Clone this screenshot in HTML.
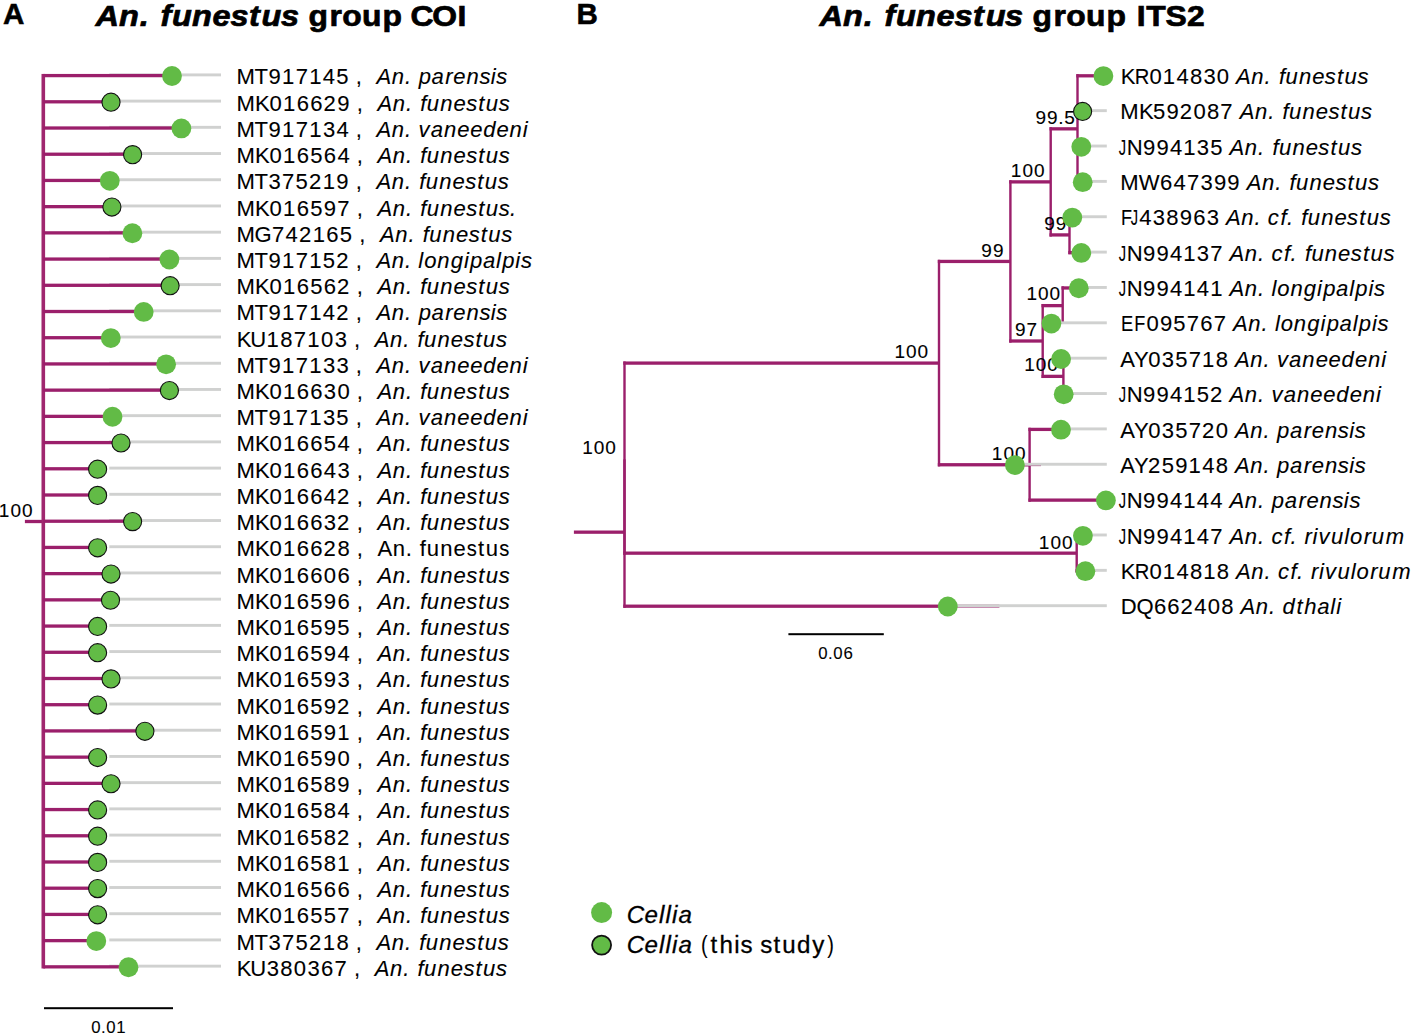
<!DOCTYPE html>
<html><head><meta charset="utf-8"><title>An. funestus group COI / ITS2</title>
<style>
html,body{margin:0;padding:0;background:#fff;}
body{width:1411px;height:1033px;overflow:hidden;}
svg{display:block;}
text{font-family:"Liberation Sans", sans-serif;white-space:pre;stroke:#000;stroke-width:0.1px;font-kerning:none;fill:#000;}
</style></head><body>
<svg width="1411" height="1033" viewBox="0 0 1411 1033">
<rect width="1411" height="1033" fill="#fff"/>
<g id="A-gray">
<rect x="109.30" y="73.44" width="111.70" height="2.90" fill="#d0d1d0"/>
<rect x="109.30" y="99.65" width="111.70" height="2.90" fill="#d0d1d0"/>
<rect x="109.30" y="125.87" width="111.70" height="2.90" fill="#d0d1d0"/>
<rect x="109.30" y="152.08" width="111.70" height="2.90" fill="#d0d1d0"/>
<rect x="109.30" y="178.29" width="111.70" height="2.90" fill="#d0d1d0"/>
<rect x="109.30" y="204.51" width="111.70" height="2.90" fill="#d0d1d0"/>
<rect x="109.30" y="230.72" width="111.70" height="2.90" fill="#d0d1d0"/>
<rect x="109.30" y="256.93" width="111.70" height="2.90" fill="#d0d1d0"/>
<rect x="109.30" y="283.15" width="111.70" height="2.90" fill="#d0d1d0"/>
<rect x="109.30" y="309.36" width="111.70" height="2.90" fill="#d0d1d0"/>
<rect x="109.30" y="335.57" width="111.70" height="2.90" fill="#d0d1d0"/>
<rect x="109.30" y="361.79" width="111.70" height="2.90" fill="#d0d1d0"/>
<rect x="109.30" y="388.00" width="111.70" height="2.90" fill="#d0d1d0"/>
<rect x="109.30" y="414.21" width="111.70" height="2.90" fill="#d0d1d0"/>
<rect x="109.30" y="440.43" width="111.70" height="2.90" fill="#d0d1d0"/>
<rect x="109.30" y="466.64" width="111.70" height="2.90" fill="#d0d1d0"/>
<rect x="109.30" y="492.85" width="111.70" height="2.90" fill="#d0d1d0"/>
<rect x="109.30" y="519.07" width="111.70" height="2.90" fill="#d0d1d0"/>
<rect x="109.30" y="545.28" width="111.70" height="2.90" fill="#d0d1d0"/>
<rect x="109.30" y="571.49" width="111.70" height="2.90" fill="#d0d1d0"/>
<rect x="109.30" y="597.71" width="111.70" height="2.90" fill="#d0d1d0"/>
<rect x="109.30" y="623.92" width="111.70" height="2.90" fill="#d0d1d0"/>
<rect x="109.30" y="650.13" width="111.70" height="2.90" fill="#d0d1d0"/>
<rect x="109.30" y="676.35" width="111.70" height="2.90" fill="#d0d1d0"/>
<rect x="109.30" y="702.56" width="111.70" height="2.90" fill="#d0d1d0"/>
<rect x="109.30" y="728.77" width="111.70" height="2.90" fill="#d0d1d0"/>
<rect x="109.30" y="754.99" width="111.70" height="2.90" fill="#d0d1d0"/>
<rect x="109.30" y="781.20" width="111.70" height="2.90" fill="#d0d1d0"/>
<rect x="109.30" y="807.41" width="111.70" height="2.90" fill="#d0d1d0"/>
<rect x="109.30" y="833.63" width="111.70" height="2.90" fill="#d0d1d0"/>
<rect x="109.30" y="859.84" width="111.70" height="2.90" fill="#d0d1d0"/>
<rect x="109.30" y="886.05" width="111.70" height="2.90" fill="#d0d1d0"/>
<rect x="109.30" y="912.27" width="111.70" height="2.90" fill="#d0d1d0"/>
<rect x="109.30" y="938.48" width="111.70" height="2.90" fill="#d0d1d0"/>
<rect x="109.30" y="964.69" width="111.70" height="2.90" fill="#d0d1d0"/>
</g><g id="A-tree">
<rect x="24.90" y="519.85" width="18.40" height="3.30" fill="#9b1f6b"/>
<rect x="41.50" y="73.94" width="3.60" height="894.55" fill="#a0276f"/>
<rect x="43.30" y="73.94" width="128.70" height="3.30" fill="#9b1f6b"/>
<rect x="43.30" y="100.15" width="67.70" height="3.30" fill="#9b1f6b"/>
<rect x="43.30" y="126.37" width="138.10" height="3.30" fill="#9b1f6b"/>
<rect x="43.30" y="152.58" width="89.30" height="3.30" fill="#9b1f6b"/>
<rect x="43.30" y="178.79" width="66.50" height="3.30" fill="#9b1f6b"/>
<rect x="43.30" y="205.01" width="68.60" height="3.30" fill="#9b1f6b"/>
<rect x="43.30" y="231.22" width="89.10" height="3.30" fill="#9b1f6b"/>
<rect x="43.30" y="257.43" width="126.10" height="3.30" fill="#9b1f6b"/>
<rect x="43.30" y="283.65" width="126.80" height="3.30" fill="#9b1f6b"/>
<rect x="43.30" y="309.86" width="100.40" height="3.30" fill="#9b1f6b"/>
<rect x="43.30" y="336.07" width="67.50" height="3.30" fill="#9b1f6b"/>
<rect x="43.30" y="362.29" width="122.80" height="3.30" fill="#9b1f6b"/>
<rect x="43.30" y="388.50" width="126.10" height="3.30" fill="#9b1f6b"/>
<rect x="43.30" y="414.71" width="69.20" height="3.30" fill="#9b1f6b"/>
<rect x="43.30" y="440.93" width="77.70" height="3.30" fill="#9b1f6b"/>
<rect x="43.30" y="467.14" width="54.30" height="3.30" fill="#9b1f6b"/>
<rect x="43.30" y="493.35" width="54.30" height="3.30" fill="#9b1f6b"/>
<rect x="43.30" y="519.57" width="89.30" height="3.30" fill="#9b1f6b"/>
<rect x="43.30" y="545.78" width="54.30" height="3.30" fill="#9b1f6b"/>
<rect x="43.30" y="571.99" width="67.70" height="3.30" fill="#9b1f6b"/>
<rect x="43.30" y="598.21" width="67.20" height="3.30" fill="#9b1f6b"/>
<rect x="43.30" y="624.42" width="54.30" height="3.30" fill="#9b1f6b"/>
<rect x="43.30" y="650.63" width="54.30" height="3.30" fill="#9b1f6b"/>
<rect x="43.30" y="676.85" width="67.70" height="3.30" fill="#9b1f6b"/>
<rect x="43.30" y="703.06" width="54.30" height="3.30" fill="#9b1f6b"/>
<rect x="43.30" y="729.27" width="101.60" height="3.30" fill="#9b1f6b"/>
<rect x="43.30" y="755.49" width="54.30" height="3.30" fill="#9b1f6b"/>
<rect x="43.30" y="781.70" width="67.70" height="3.30" fill="#9b1f6b"/>
<rect x="43.30" y="807.91" width="54.30" height="3.30" fill="#9b1f6b"/>
<rect x="43.30" y="834.13" width="54.30" height="3.30" fill="#9b1f6b"/>
<rect x="43.30" y="860.34" width="54.30" height="3.30" fill="#9b1f6b"/>
<rect x="43.30" y="886.55" width="54.30" height="3.30" fill="#9b1f6b"/>
<rect x="43.30" y="912.77" width="54.30" height="3.30" fill="#9b1f6b"/>
<rect x="43.30" y="938.98" width="53.00" height="3.30" fill="#9b1f6b"/>
<rect x="43.30" y="965.19" width="85.20" height="3.30" fill="#9b1f6b"/>
</g><g id="A-dots">
<circle cx="172.00" cy="75.99" r="9.90" fill="#62bb46"/>
<circle cx="111.00" cy="102.20" r="9.05" fill="#62bb46" stroke="#111" stroke-width="1.1"/>
<circle cx="181.40" cy="128.42" r="9.90" fill="#62bb46"/>
<circle cx="132.60" cy="154.63" r="9.05" fill="#62bb46" stroke="#111" stroke-width="1.1"/>
<circle cx="109.80" cy="180.84" r="9.90" fill="#62bb46"/>
<circle cx="111.90" cy="207.06" r="9.05" fill="#62bb46" stroke="#111" stroke-width="1.1"/>
<circle cx="132.40" cy="233.27" r="9.90" fill="#62bb46"/>
<circle cx="169.40" cy="259.48" r="9.90" fill="#62bb46"/>
<circle cx="170.10" cy="285.70" r="9.05" fill="#62bb46" stroke="#111" stroke-width="1.1"/>
<circle cx="143.70" cy="311.91" r="9.90" fill="#62bb46"/>
<circle cx="110.80" cy="338.12" r="9.90" fill="#62bb46"/>
<circle cx="166.10" cy="364.34" r="9.90" fill="#62bb46"/>
<circle cx="169.40" cy="390.55" r="9.05" fill="#62bb46" stroke="#111" stroke-width="1.1"/>
<circle cx="112.50" cy="416.76" r="9.90" fill="#62bb46"/>
<circle cx="121.00" cy="442.98" r="9.05" fill="#62bb46" stroke="#111" stroke-width="1.1"/>
<circle cx="97.60" cy="469.19" r="9.05" fill="#62bb46" stroke="#111" stroke-width="1.1"/>
<circle cx="97.60" cy="495.40" r="9.05" fill="#62bb46" stroke="#111" stroke-width="1.1"/>
<circle cx="132.60" cy="521.62" r="9.05" fill="#62bb46" stroke="#111" stroke-width="1.1"/>
<circle cx="97.60" cy="547.83" r="9.05" fill="#62bb46" stroke="#111" stroke-width="1.1"/>
<circle cx="111.00" cy="574.04" r="9.05" fill="#62bb46" stroke="#111" stroke-width="1.1"/>
<circle cx="110.50" cy="600.26" r="9.05" fill="#62bb46" stroke="#111" stroke-width="1.1"/>
<circle cx="97.60" cy="626.47" r="9.05" fill="#62bb46" stroke="#111" stroke-width="1.1"/>
<circle cx="97.60" cy="652.68" r="9.05" fill="#62bb46" stroke="#111" stroke-width="1.1"/>
<circle cx="111.00" cy="678.90" r="9.05" fill="#62bb46" stroke="#111" stroke-width="1.1"/>
<circle cx="97.60" cy="705.11" r="9.05" fill="#62bb46" stroke="#111" stroke-width="1.1"/>
<circle cx="144.90" cy="731.32" r="9.05" fill="#62bb46" stroke="#111" stroke-width="1.1"/>
<circle cx="97.60" cy="757.54" r="9.05" fill="#62bb46" stroke="#111" stroke-width="1.1"/>
<circle cx="111.00" cy="783.75" r="9.05" fill="#62bb46" stroke="#111" stroke-width="1.1"/>
<circle cx="97.60" cy="809.96" r="9.05" fill="#62bb46" stroke="#111" stroke-width="1.1"/>
<circle cx="97.60" cy="836.18" r="9.05" fill="#62bb46" stroke="#111" stroke-width="1.1"/>
<circle cx="97.60" cy="862.39" r="9.05" fill="#62bb46" stroke="#111" stroke-width="1.1"/>
<circle cx="97.60" cy="888.60" r="9.05" fill="#62bb46" stroke="#111" stroke-width="1.1"/>
<circle cx="97.60" cy="914.82" r="9.05" fill="#62bb46" stroke="#111" stroke-width="1.1"/>
<circle cx="96.30" cy="941.03" r="9.90" fill="#62bb46"/>
<circle cx="128.50" cy="967.24" r="9.90" fill="#62bb46"/>
</g><g id="A-labels">
<text x="236.43 254.61 268.45 281.99 295.64 309.16 322.85 336.35" y="84.49" font-size="22.05" font-style="normal" font-weight="normal">MT917145</text>
<text x="355.71" y="84.49" font-size="22.05" font-style="normal" font-weight="normal">,</text>
<text x="376.45 391.70 404.97 411.25 418.64 431.56 445.31 453.37 466.47 479.39 490.68 496.25" y="84.49" font-size="22.05" font-style="italic" font-weight="normal">An. parensis</text>
<text x="236.43 255.11 269.48 282.95 296.65 310.23 323.53 337.33" y="110.70" font-size="22.05" font-style="normal" font-weight="normal">MK016629</text>
<text x="356.66" y="110.70" font-size="22.05" font-style="normal" font-weight="normal">,</text>
<text x="377.40 392.65 405.92 412.20 420.28 426.78 440.24 453.50 466.15 478.25 485.77 498.78" y="110.70" font-size="22.05" font-style="italic" font-weight="normal">An. funestus</text>
<text x="236.43 254.61 268.45 281.99 295.64 309.16 322.88 336.43" y="136.92" font-size="22.05" font-style="normal" font-weight="normal">MT917134</text>
<text x="355.71" y="136.92" font-size="22.05" font-style="normal" font-weight="normal">,</text>
<text x="376.45 391.70 404.97 411.25 418.45 430.65 443.91 457.16 470.15 483.15 496.52 509.62 522.84" y="136.92" font-size="22.05" font-style="italic" font-weight="normal">An. vaneedeni</text>
<text x="236.43 255.11 269.48 282.95 296.65 310.14 323.81 337.39" y="163.13" font-size="22.05" font-style="normal" font-weight="normal">MK016564</text>
<text x="356.66" y="163.13" font-size="22.05" font-style="normal" font-weight="normal">,</text>
<text x="377.40 392.65 405.92 412.20 420.28 426.78 440.24 453.50 466.15 478.25 485.77 498.78" y="163.13" font-size="22.05" font-style="italic" font-weight="normal">An. funestus</text>
<text x="236.43 254.61 268.55 282.06 295.60 308.99 322.74 336.37" y="189.34" font-size="22.05" font-style="normal" font-weight="normal">MT375219</text>
<text x="355.71" y="189.34" font-size="22.05" font-style="normal" font-weight="normal">,</text>
<text x="376.45 391.70 404.97 411.25 419.33 425.83 439.29 452.55 465.20 477.30 484.82 497.84" y="189.34" font-size="22.05" font-style="italic" font-weight="normal">An. funestus</text>
<text x="236.43 255.11 269.48 282.95 296.65 310.14 323.74 337.35" y="215.56" font-size="22.05" font-style="normal" font-weight="normal">MK016597</text>
<text x="356.66" y="215.56" font-size="22.05" font-style="normal" font-weight="normal">,</text>
<text x="377.40 392.65 405.92 412.20 420.28 426.78 440.24 453.50 466.15 478.25 485.77 498.78 510.12" y="215.56" font-size="22.05" font-style="italic" font-weight="normal">An. funestus.</text>
<text x="236.43 254.51 271.98 285.60 298.91 312.66 326.36 339.85" y="241.77" font-size="22.05" font-style="normal" font-weight="normal">MG742165</text>
<text x="359.18" y="241.77" font-size="22.05" font-style="normal" font-weight="normal">,</text>
<text x="379.91 395.16 408.43 414.72 422.80 429.29 442.75 456.01 468.66 480.76 488.29 501.30" y="241.77" font-size="22.05" font-style="italic" font-weight="normal">An. funestus</text>
<text x="236.43 254.61 268.45 281.99 295.64 309.16 322.77 336.15" y="267.98" font-size="22.05" font-style="normal" font-weight="normal">MT917152</text>
<text x="355.71" y="267.98" font-size="22.05" font-style="normal" font-weight="normal">,</text>
<text x="376.45 391.70 404.97 411.25 418.34 424.14 437.26 450.68 463.88 470.04 482.96 496.06 502.23 515.32 520.88" y="267.98" font-size="22.05" font-style="italic" font-weight="normal">An. longipalpis</text>
<text x="236.43 255.11 269.48 282.95 296.65 310.14 323.81 337.11" y="294.20" font-size="22.05" font-style="normal" font-weight="normal">MK016562</text>
<text x="356.66" y="294.20" font-size="22.05" font-style="normal" font-weight="normal">,</text>
<text x="377.40 392.65 405.92 412.20 420.28 426.78 440.24 453.50 466.15 478.25 485.77 498.78" y="294.20" font-size="22.05" font-style="italic" font-weight="normal">An. funestus</text>
<text x="236.43 254.61 268.45 281.99 295.64 309.16 322.85 336.15" y="320.41" font-size="22.05" font-style="normal" font-weight="normal">MT917142</text>
<text x="355.71" y="320.41" font-size="22.05" font-style="normal" font-weight="normal">,</text>
<text x="376.45 391.70 404.97 411.25 418.64 431.56 445.31 453.37 466.47 479.39 490.68 496.25" y="320.41" font-size="22.05" font-style="italic" font-weight="normal">An. parensis</text>
<text x="236.69 250.25 266.57 280.27 293.81 307.32 321.02 334.63" y="346.62" font-size="22.05" font-style="normal" font-weight="normal">KU187103</text>
<text x="353.90" y="346.62" font-size="22.05" font-style="normal" font-weight="normal">,</text>
<text x="374.64 389.89 403.16 409.44 417.52 424.02 437.48 450.73 463.38 475.49 483.01 496.02" y="346.62" font-size="22.05" font-style="italic" font-weight="normal">An. funestus</text>
<text x="236.43 254.61 268.45 281.99 295.64 309.16 322.88 336.46" y="372.84" font-size="22.05" font-style="normal" font-weight="normal">MT917133</text>
<text x="355.71" y="372.84" font-size="22.05" font-style="normal" font-weight="normal">,</text>
<text x="376.45 391.70 404.97 411.25 418.45 430.65 443.91 457.16 470.15 483.15 496.52 509.62 522.84" y="372.84" font-size="22.05" font-style="italic" font-weight="normal">An. vaneedeni</text>
<text x="236.43 255.11 269.48 282.95 296.65 310.23 323.84 337.39" y="399.05" font-size="22.05" font-style="normal" font-weight="normal">MK016630</text>
<text x="356.66" y="399.05" font-size="22.05" font-style="normal" font-weight="normal">,</text>
<text x="377.40 392.65 405.92 412.20 420.28 426.78 440.24 453.50 466.15 478.25 485.77 498.78" y="399.05" font-size="22.05" font-style="italic" font-weight="normal">An. funestus</text>
<text x="236.43 254.61 268.45 281.99 295.64 309.16 322.88 336.35" y="425.26" font-size="22.05" font-style="normal" font-weight="normal">MT917135</text>
<text x="355.71" y="425.26" font-size="22.05" font-style="normal" font-weight="normal">,</text>
<text x="376.45 391.70 404.97 411.25 418.45 430.65 443.91 457.16 470.15 483.15 496.52 509.62 522.84" y="425.26" font-size="22.05" font-style="italic" font-weight="normal">An. vaneedeni</text>
<text x="236.43 255.11 269.48 282.95 296.65 310.23 323.73 337.39" y="451.48" font-size="22.05" font-style="normal" font-weight="normal">MK016654</text>
<text x="356.66" y="451.48" font-size="22.05" font-style="normal" font-weight="normal">,</text>
<text x="377.40 392.65 405.92 412.20 420.28 426.78 440.24 453.50 466.15 478.25 485.77 498.78" y="451.48" font-size="22.05" font-style="italic" font-weight="normal">An. funestus</text>
<text x="236.43 255.11 269.48 282.95 296.65 310.23 323.81 337.42" y="477.69" font-size="22.05" font-style="normal" font-weight="normal">MK016643</text>
<text x="356.66" y="477.69" font-size="22.05" font-style="normal" font-weight="normal">,</text>
<text x="377.40 392.65 405.92 412.20 420.28 426.78 440.24 453.50 466.15 478.25 485.77 498.78" y="477.69" font-size="22.05" font-style="italic" font-weight="normal">An. funestus</text>
<text x="236.43 255.11 269.48 282.95 296.65 310.23 323.81 337.11" y="503.90" font-size="22.05" font-style="normal" font-weight="normal">MK016642</text>
<text x="356.66" y="503.90" font-size="22.05" font-style="normal" font-weight="normal">,</text>
<text x="377.40 392.65 405.92 412.20 420.28 426.78 440.24 453.50 466.15 478.25 485.77 498.78" y="503.90" font-size="22.05" font-style="italic" font-weight="normal">An. funestus</text>
<text x="236.43 255.11 269.48 282.95 296.65 310.23 323.84 337.11" y="530.12" font-size="22.05" font-style="normal" font-weight="normal">MK016632</text>
<text x="356.66" y="530.12" font-size="22.05" font-style="normal" font-weight="normal">,</text>
<text x="377.40 392.65 405.92 412.20 420.28 426.78 440.24 453.50 466.15 478.25 485.77 498.78" y="530.12" font-size="22.05" font-style="italic" font-weight="normal">An. funestus</text>
<text x="236.43 255.11 269.48 282.95 296.65 310.23 323.53 337.39" y="556.33" font-size="22.05" font-style="normal" font-weight="normal">MK016628</text>
<text x="356.66" y="556.33" font-size="22.05" font-style="normal" font-weight="normal">,</text>
<text x="377.55 392.72 405.78 412.20 419.83 426.85 440.31 453.48 466.07 478.08 485.84 498.70" y="556.33" font-size="22.05" font-style="normal" font-weight="normal">An. fune tu </text>
<text transform="translate(466.65,556.33) scale(0.917,1)" x="0" y="0" font-size="22.05">s</text>
<text transform="translate(499.28,556.33) scale(0.917,1)" x="0" y="0" font-size="22.05">s</text>
<text x="236.43 255.11 269.48 282.95 296.65 310.23 323.81 337.40" y="582.54" font-size="22.05" font-style="normal" font-weight="normal">MK016606</text>
<text x="356.66" y="582.54" font-size="22.05" font-style="normal" font-weight="normal">,</text>
<text x="377.40 392.65 405.92 412.20 420.28 426.78 440.24 453.50 466.15 478.25 485.77 498.78" y="582.54" font-size="22.05" font-style="italic" font-weight="normal">An. funestus</text>
<text x="236.43 255.11 269.48 282.95 296.65 310.14 323.74 337.40" y="608.76" font-size="22.05" font-style="normal" font-weight="normal">MK016596</text>
<text x="356.66" y="608.76" font-size="22.05" font-style="normal" font-weight="normal">,</text>
<text x="377.40 392.65 405.92 412.20 420.28 426.78 440.24 453.50 466.15 478.25 485.77 498.78" y="608.76" font-size="22.05" font-style="italic" font-weight="normal">An. funestus</text>
<text x="236.43 255.11 269.48 282.95 296.65 310.14 323.74 337.31" y="634.97" font-size="22.05" font-style="normal" font-weight="normal">MK016595</text>
<text x="356.66" y="634.97" font-size="22.05" font-style="normal" font-weight="normal">,</text>
<text x="377.40 392.65 405.92 412.20 420.28 426.78 440.24 453.50 466.15 478.25 485.77 498.78" y="634.97" font-size="22.05" font-style="italic" font-weight="normal">An. funestus</text>
<text x="236.43 255.11 269.48 282.95 296.65 310.14 323.74 337.39" y="661.18" font-size="22.05" font-style="normal" font-weight="normal">MK016594</text>
<text x="356.66" y="661.18" font-size="22.05" font-style="normal" font-weight="normal">,</text>
<text x="377.40 392.65 405.92 412.20 420.28 426.78 440.24 453.50 466.15 478.25 485.77 498.78" y="661.18" font-size="22.05" font-style="italic" font-weight="normal">An. funestus</text>
<text x="236.43 255.11 269.48 282.95 296.65 310.14 323.74 337.42" y="687.40" font-size="22.05" font-style="normal" font-weight="normal">MK016593</text>
<text x="356.66" y="687.40" font-size="22.05" font-style="normal" font-weight="normal">,</text>
<text x="377.40 392.65 405.92 412.20 420.28 426.78 440.24 453.50 466.15 478.25 485.77 498.78" y="687.40" font-size="22.05" font-style="italic" font-weight="normal">An. funestus</text>
<text x="236.43 255.11 269.48 282.95 296.65 310.14 323.74 337.11" y="713.61" font-size="22.05" font-style="normal" font-weight="normal">MK016592</text>
<text x="356.66" y="713.61" font-size="22.05" font-style="normal" font-weight="normal">,</text>
<text x="377.40 392.65 405.92 412.20 420.28 426.78 440.24 453.50 466.15 478.25 485.77 498.78" y="713.61" font-size="22.05" font-style="italic" font-weight="normal">An. funestus</text>
<text x="236.43 255.11 269.48 282.95 296.65 310.14 323.74 337.29" y="739.82" font-size="22.05" font-style="normal" font-weight="normal">MK016591</text>
<text x="356.66" y="739.82" font-size="22.05" font-style="normal" font-weight="normal">,</text>
<text x="377.40 392.65 405.92 412.20 420.28 426.78 440.24 453.50 466.15 478.25 485.77 498.78" y="739.82" font-size="22.05" font-style="italic" font-weight="normal">An. funestus</text>
<text x="236.43 255.11 269.48 282.95 296.65 310.14 323.74 337.39" y="766.04" font-size="22.05" font-style="normal" font-weight="normal">MK016590</text>
<text x="356.66" y="766.04" font-size="22.05" font-style="normal" font-weight="normal">,</text>
<text x="377.40 392.65 405.92 412.20 420.28 426.78 440.24 453.50 466.15 478.25 485.77 498.78" y="766.04" font-size="22.05" font-style="italic" font-weight="normal">An. funestus</text>
<text x="236.43 255.11 269.48 282.95 296.65 310.14 323.81 337.33" y="792.25" font-size="22.05" font-style="normal" font-weight="normal">MK016589</text>
<text x="356.66" y="792.25" font-size="22.05" font-style="normal" font-weight="normal">,</text>
<text x="377.40 392.65 405.92 412.20 420.28 426.78 440.24 453.50 466.15 478.25 485.77 498.78" y="792.25" font-size="22.05" font-style="italic" font-weight="normal">An. funestus</text>
<text x="236.43 255.11 269.48 282.95 296.65 310.14 323.81 337.39" y="818.46" font-size="22.05" font-style="normal" font-weight="normal">MK016584</text>
<text x="356.66" y="818.46" font-size="22.05" font-style="normal" font-weight="normal">,</text>
<text x="377.40 392.65 405.92 412.20 420.28 426.78 440.24 453.50 466.15 478.25 485.77 498.78" y="818.46" font-size="22.05" font-style="italic" font-weight="normal">An. funestus</text>
<text x="236.43 255.11 269.48 282.95 296.65 310.14 323.81 337.11" y="844.68" font-size="22.05" font-style="normal" font-weight="normal">MK016582</text>
<text x="356.66" y="844.68" font-size="22.05" font-style="normal" font-weight="normal">,</text>
<text x="377.40 392.65 405.92 412.20 420.28 426.78 440.24 453.50 466.15 478.25 485.77 498.78" y="844.68" font-size="22.05" font-style="italic" font-weight="normal">An. funestus</text>
<text x="236.43 255.11 269.48 282.95 296.65 310.14 323.81 337.29" y="870.89" font-size="22.05" font-style="normal" font-weight="normal">MK016581</text>
<text x="356.66" y="870.89" font-size="22.05" font-style="normal" font-weight="normal">,</text>
<text x="377.40 392.65 405.92 412.20 420.28 426.78 440.24 453.50 466.15 478.25 485.77 498.78" y="870.89" font-size="22.05" font-style="italic" font-weight="normal">An. funestus</text>
<text x="236.43 255.11 269.48 282.95 296.65 310.14 323.81 337.40" y="897.10" font-size="22.05" font-style="normal" font-weight="normal">MK016566</text>
<text x="356.66" y="897.10" font-size="22.05" font-style="normal" font-weight="normal">,</text>
<text x="377.40 392.65 405.92 412.20 420.28 426.78 440.24 453.50 466.15 478.25 485.77 498.78" y="897.10" font-size="22.05" font-style="italic" font-weight="normal">An. funestus</text>
<text x="236.43 255.11 269.48 282.95 296.65 310.14 323.73 337.35" y="923.32" font-size="22.05" font-style="normal" font-weight="normal">MK016557</text>
<text x="356.66" y="923.32" font-size="22.05" font-style="normal" font-weight="normal">,</text>
<text x="377.40 392.65 405.92 412.20 420.28 426.78 440.24 453.50 466.15 478.25 485.77 498.78" y="923.32" font-size="22.05" font-style="italic" font-weight="normal">An. funestus</text>
<text x="236.43 254.61 268.55 282.06 295.60 308.99 322.74 336.43" y="949.53" font-size="22.05" font-style="normal" font-weight="normal">MT375218</text>
<text x="355.71" y="949.53" font-size="22.05" font-style="normal" font-weight="normal">,</text>
<text x="376.45 391.70 404.97 411.25 419.33 425.83 439.29 452.55 465.20 477.30 484.82 497.84" y="949.53" font-size="22.05" font-style="italic" font-weight="normal">An. funestus</text>
<text x="236.69 250.25 266.71 280.27 293.85 307.46 321.02 334.56" y="975.74" font-size="22.05" font-style="normal" font-weight="normal">KU380367</text>
<text x="353.90" y="975.74" font-size="22.05" font-style="normal" font-weight="normal">,</text>
<text x="374.64 389.89 403.16 409.44 417.52 424.02 437.48 450.73 463.38 475.49 483.01 496.02" y="975.74" font-size="22.05" font-style="italic" font-weight="normal">An. funestus</text>
</g>
<text x="-1.22 10.40 21.91" y="516.80" font-size="19.01" font-style="normal" font-weight="normal">100</text>
<rect x="44.00" y="1007.20" width="129.00" height="2.00" fill="#000"/>
<text x="91.13 101.05 106.30 116.33" y="1032.90" font-size="16.80" font-style="normal" font-weight="normal">0.01</text>
<g id="B-tree">
<rect x="573.90" y="530.51" width="50.60" height="3.30" fill="#9b1f6b"/>
<rect x="1076.30" y="74.15" width="2.40" height="109.38" fill="#9b1f6b"/>
<rect x="1076.30" y="74.15" width="27.10" height="3.30" fill="#9b1f6b"/>
<rect x="1076.30" y="109.51" width="6.30" height="3.30" fill="#9b1f6b"/>
<rect x="1076.30" y="144.87" width="5.00" height="3.30" fill="#9b1f6b"/>
<rect x="1076.30" y="180.23" width="6.40" height="3.30" fill="#9b1f6b"/>
<rect x="1068.30" y="215.59" width="2.40" height="38.66" fill="#9b1f6b"/>
<rect x="1068.30" y="215.59" width="4.00" height="3.30" fill="#9b1f6b"/>
<rect x="1068.30" y="250.95" width="13.00" height="3.30" fill="#9b1f6b"/>
<rect x="1049.50" y="127.19" width="2.40" height="109.38" fill="#9b1f6b"/>
<rect x="1049.50" y="127.19" width="28.00" height="3.30" fill="#9b1f6b"/>
<rect x="1049.50" y="233.27" width="20.00" height="3.30" fill="#9b1f6b"/>
<rect x="1061.50" y="286.31" width="2.40" height="35.81" fill="#9b1f6b"/>
<rect x="1061.50" y="286.31" width="17.30" height="3.30" fill="#9b1f6b"/>
<rect x="1062.20" y="359.88" width="2.40" height="35.81" fill="#9b1f6b"/>
<rect x="1062.20" y="392.39" width="1.50" height="3.30" fill="#9b1f6b"/>
<rect x="1041.50" y="303.99" width="2.40" height="74.02" fill="#9b1f6b"/>
<rect x="1041.50" y="303.99" width="21.20" height="3.30" fill="#9b1f6b"/>
<rect x="1041.50" y="374.71" width="21.90" height="3.30" fill="#9b1f6b"/>
<rect x="1009.20" y="180.23" width="2.40" height="162.42" fill="#9b1f6b"/>
<rect x="1009.20" y="180.23" width="41.50" height="3.30" fill="#9b1f6b"/>
<rect x="1009.20" y="339.35" width="33.50" height="3.30" fill="#9b1f6b"/>
<rect x="1028.40" y="427.75" width="2.40" height="74.02" fill="#9b1f6b"/>
<rect x="1028.40" y="427.75" width="32.60" height="3.30" fill="#9b1f6b"/>
<rect x="1028.40" y="498.47" width="77.50" height="3.30" fill="#9b1f6b"/>
<rect x="937.80" y="259.79" width="2.40" height="206.62" fill="#9b1f6b"/>
<rect x="937.80" y="259.79" width="72.60" height="3.30" fill="#9b1f6b"/>
<rect x="937.80" y="463.11" width="91.80" height="3.30" fill="#9b1f6b"/>
<rect x="1075.50" y="533.83" width="2.40" height="38.66" fill="#9b1f6b"/>
<rect x="1075.50" y="533.83" width="7.40" height="3.30" fill="#9b1f6b"/>
<rect x="1075.50" y="569.19" width="9.90" height="3.30" fill="#9b1f6b"/>
<rect x="623.30" y="361.45" width="2.40" height="193.36" fill="#9b1f6b"/>
<rect x="623.30" y="361.45" width="315.70" height="3.30" fill="#9b1f6b"/>
<rect x="623.30" y="551.51" width="453.40" height="3.30" fill="#9b1f6b"/>
<rect x="623.30" y="459.33" width="2.40" height="148.52" fill="#9b1f6b"/>
<rect x="623.30" y="604.55" width="324.50" height="3.30" fill="#9b1f6b"/>
<rect x="947.80" y="604.65" width="51.60" height="2.90" fill="#9b1f6b"/>
<rect x="1014.90" y="463.21" width="26.10" height="2.90" fill="#9b1f6b"/>
</g><g id="B-gray">
<rect x="1103.40" y="73.85" width="3.40" height="2.90" fill="#d0d1d0"/>
<rect x="1082.60" y="109.21" width="24.20" height="2.90" fill="#d0d1d0"/>
<rect x="1081.30" y="144.57" width="25.50" height="2.90" fill="#d0d1d0"/>
<rect x="1082.70" y="179.93" width="24.10" height="2.90" fill="#d0d1d0"/>
<rect x="1072.30" y="215.29" width="34.50" height="2.90" fill="#d0d1d0"/>
<rect x="1081.30" y="250.65" width="25.50" height="2.90" fill="#d0d1d0"/>
<rect x="1078.80" y="286.01" width="28.00" height="2.90" fill="#d0d1d0"/>
<rect x="1051.40" y="321.37" width="55.40" height="2.90" fill="#d0d1d0"/>
<rect x="1061.10" y="356.73" width="45.70" height="2.90" fill="#d0d1d0"/>
<rect x="1063.70" y="392.09" width="43.10" height="2.90" fill="#d0d1d0"/>
<rect x="1061.00" y="427.45" width="45.80" height="2.90" fill="#d0d1d0"/>
<rect x="1014.90" y="462.81" width="91.90" height="2.90" fill="#d0d1d0"/>
<rect x="1105.90" y="498.17" width="0.90" height="2.90" fill="#d0d1d0"/>
<rect x="1082.90" y="533.53" width="23.90" height="2.90" fill="#d0d1d0"/>
<rect x="1085.40" y="568.89" width="21.40" height="2.90" fill="#d0d1d0"/>
<rect x="947.80" y="604.25" width="159.00" height="2.90" fill="#d0d1d0"/>
</g><g id="B-nodelabels">
<text x="582.18 593.80 605.31" y="453.90" font-size="19.01" font-style="normal" font-weight="normal">100</text>
<text x="894.48 906.10 917.61" y="358.00" font-size="19.01" font-style="normal" font-weight="normal">100</text>
<text x="981.37 992.89" y="257.10" font-size="19.01" font-style="normal" font-weight="normal">99</text>
<text x="1010.78 1022.40 1033.91" y="176.80" font-size="19.01" font-style="normal" font-weight="normal">100</text>
<text x="1035.47 1046.99 1058.32 1064.24" y="123.50" font-size="19.01" font-style="normal" font-weight="normal">99.5</text>
<text x="1044.17 1055.69" y="229.70" font-size="19.01" font-style="normal" font-weight="normal">99</text>
<text x="1026.48 1038.10 1049.61" y="299.90" font-size="19.01" font-style="normal" font-weight="normal">100</text>
<text x="1014.97 1026.51" y="335.50" font-size="19.01" font-style="normal" font-weight="normal">97</text>
<text x="1024.18 1035.80 1047.31" y="371.30" font-size="19.01" font-style="normal" font-weight="normal">100</text>
<text x="991.78 1003.40 1014.91" y="459.80" font-size="19.01" font-style="normal" font-weight="normal">100</text>
<text x="1038.78 1050.40 1061.91" y="548.60" font-size="19.01" font-style="normal" font-weight="normal">100</text>
</g><g id="B-dots">
<circle cx="1103.40" cy="76.10" r="9.90" fill="#62bb46"/>
<circle cx="1082.60" cy="111.46" r="9.05" fill="#62bb46" stroke="#111" stroke-width="1.1"/>
<circle cx="1081.30" cy="146.82" r="9.90" fill="#62bb46"/>
<circle cx="1082.70" cy="182.18" r="9.90" fill="#62bb46"/>
<circle cx="1072.30" cy="217.54" r="9.90" fill="#62bb46"/>
<circle cx="1081.30" cy="252.90" r="9.90" fill="#62bb46"/>
<circle cx="1078.80" cy="288.26" r="9.90" fill="#62bb46"/>
<circle cx="1051.40" cy="323.62" r="9.90" fill="#62bb46"/>
<circle cx="1061.10" cy="358.98" r="9.90" fill="#62bb46"/>
<circle cx="1063.70" cy="394.34" r="9.90" fill="#62bb46"/>
<circle cx="1061.00" cy="429.70" r="9.90" fill="#62bb46"/>
<circle cx="1014.90" cy="465.06" r="9.90" fill="#62bb46"/>
<circle cx="1105.90" cy="500.42" r="9.90" fill="#62bb46"/>
<circle cx="1082.90" cy="535.78" r="9.90" fill="#62bb46"/>
<circle cx="1085.40" cy="571.14" r="9.90" fill="#62bb46"/>
<circle cx="947.80" cy="606.50" r="9.90" fill="#62bb46"/>
</g><g id="B-labels">
<text x="1120.64 1134.24 1149.53 1162.87 1176.44 1189.90 1203.38 1216.81" y="83.90" font-size="22.05" font-style="normal" font-weight="normal">K 014830</text>
<text transform="translate(1134.66,83.90) scale(0.917,1)" x="0" y="0" font-size="22.05">R</text>
<text x="1236.09 1251.34 1264.61 1270.89 1278.97 1285.47 1298.93 1312.19 1324.84 1336.94 1344.46 1357.48" y="83.90" font-size="22.05" font-style="italic" font-weight="normal">An. funestus</text>
<text x="1120.32 1138.89 1153.00 1166.47 1179.71 1193.45 1206.90 1220.32" y="119.26" font-size="22.05" font-style="normal" font-weight="normal">MK592087</text>
<text x="1239.64 1254.89 1268.16 1274.45 1282.53 1289.02 1302.48 1315.74 1328.39 1340.49 1348.02 1361.03" y="119.26" font-size="22.05" font-style="italic" font-weight="normal">An. funestus</text>
<text x="1120.37 1126.87 1142.95 1156.41 1169.93 1183.28 1196.87 1210.22" y="154.62" font-size="22.05" font-style="normal" font-weight="normal"> N994135</text>
<text transform="translate(1118.65,154.62) scale(0.668,1)" x="0" y="0" font-size="22.05">J</text>
<text x="1229.59 1244.84 1258.10 1264.39 1272.47 1278.96 1292.42 1305.68 1318.33 1330.43 1337.96 1350.97" y="154.62" font-size="22.05" font-style="italic" font-weight="normal">An. funestus</text>
<text x="1120.32 1138.66 1160.12 1173.58 1186.99 1200.52 1213.88 1227.34" y="189.98" font-size="22.05" font-style="normal" font-weight="normal">MW647399</text>
<text x="1246.69 1261.94 1275.21 1281.49 1289.57 1296.07 1309.53 1322.78 1335.43 1347.54 1355.06 1368.07" y="189.98" font-size="22.05" font-style="italic" font-weight="normal">An. funestus</text>
<text x="1120.37 1132.54 1139.36 1152.85 1166.28 1179.67 1193.19 1206.67" y="225.34" font-size="22.05" font-style="normal" font-weight="normal">  438963</text>
<text transform="translate(1120.96,225.34) scale(0.822,1)" x="0" y="0" font-size="22.05">F</text>
<text transform="translate(1130.82,225.34) scale(0.668,1)" x="0" y="0" font-size="22.05">J</text>
<text x="1225.93 1241.18 1254.45 1260.73 1267.83 1280.41 1286.89 1293.18 1301.25 1307.75 1321.21 1334.47 1347.12 1359.22 1366.75 1379.76" y="225.34" font-size="22.05" font-style="italic" font-weight="normal">An. cf. funestus</text>
<text x="1120.37 1126.87 1142.95 1156.41 1169.93 1183.28 1196.87 1210.26" y="260.70" font-size="22.05" font-style="normal" font-weight="normal"> N994137</text>
<text transform="translate(1118.65,260.70) scale(0.668,1)" x="0" y="0" font-size="22.05">J</text>
<text x="1229.59 1244.84 1258.10 1264.39 1271.49 1284.07 1290.55 1296.83 1304.91 1311.41 1324.87 1338.12 1350.77 1362.88 1370.40 1383.41" y="260.70" font-size="22.05" font-style="italic" font-weight="normal">An. cf. funestus</text>
<text x="1120.37 1126.87 1142.95 1156.41 1169.93 1183.28 1196.84 1210.19" y="296.06" font-size="22.05" font-style="normal" font-weight="normal"> N994141</text>
<text transform="translate(1118.65,296.06) scale(0.668,1)" x="0" y="0" font-size="22.05">J</text>
<text x="1229.59 1244.84 1258.10 1264.39 1271.47 1277.27 1290.39 1303.81 1317.01 1323.18 1336.09 1349.19 1355.36 1368.45 1374.02" y="296.06" font-size="22.05" font-style="italic" font-weight="normal">An. longipalpis</text>
<text x="1120.37 1133.73 1146.49 1159.88 1173.32 1186.82 1200.32 1213.73" y="331.42" font-size="22.05" font-style="normal" font-weight="normal">  095767</text>
<text transform="translate(1120.94,331.42) scale(0.831,1)" x="0" y="0" font-size="22.05">E</text>
<text transform="translate(1134.32,331.42) scale(0.822,1)" x="0" y="0" font-size="22.05">F</text>
<text x="1233.05 1248.30 1261.57 1267.86 1274.94 1280.74 1293.86 1307.28 1320.48 1326.64 1339.56 1352.66 1358.83 1371.92 1377.49" y="331.42" font-size="22.05" font-style="italic" font-weight="normal">An. longipalpis</text>
<text x="1120.25 1133.94 1148.35 1161.83 1175.18 1188.68 1202.06 1215.63" y="366.78" font-size="22.05" font-style="normal" font-weight="normal">AY035718</text>
<text x="1234.91 1250.16 1263.43 1269.72 1276.91 1289.11 1302.37 1315.63 1328.61 1341.61 1354.98 1368.08 1381.30" y="366.78" font-size="22.05" font-style="italic" font-weight="normal">An. vaneedeni</text>
<text x="1120.37 1126.87 1142.95 1156.41 1169.93 1183.28 1196.76 1210.02" y="402.14" font-size="22.05" font-style="normal" font-weight="normal"> N994152</text>
<text transform="translate(1118.65,402.14) scale(0.668,1)" x="0" y="0" font-size="22.05">J</text>
<text x="1229.59 1244.84 1258.10 1264.39 1271.58 1283.78 1297.04 1310.30 1323.28 1336.28 1349.65 1362.75 1375.97" y="402.14" font-size="22.05" font-style="italic" font-weight="normal">An. vaneedeni</text>
<text x="1120.25 1133.94 1148.35 1161.83 1175.18 1188.68 1201.90 1215.63" y="437.50" font-size="22.05" font-style="normal" font-weight="normal">AY035720</text>
<text x="1234.91 1250.16 1263.43 1269.72 1277.10 1290.02 1303.78 1311.83 1324.93 1337.86 1349.15 1354.71" y="437.50" font-size="22.05" font-style="italic" font-weight="normal">An. parensis</text>
<text x="1120.25 1133.94 1148.07 1161.72 1175.19 1188.61 1202.17 1215.63" y="472.86" font-size="22.05" font-style="normal" font-weight="normal">AY259148</text>
<text x="1234.91 1250.16 1263.43 1269.72 1277.10 1290.02 1303.78 1311.83 1324.93 1337.86 1349.15 1354.71" y="472.86" font-size="22.05" font-style="italic" font-weight="normal">An. parensis</text>
<text x="1120.37 1126.87 1142.95 1156.41 1169.93 1183.28 1196.84 1210.30" y="508.22" font-size="22.05" font-style="normal" font-weight="normal"> N994144</text>
<text transform="translate(1118.65,508.22) scale(0.668,1)" x="0" y="0" font-size="22.05">J</text>
<text x="1229.59 1244.84 1258.10 1264.39 1271.77 1284.69 1298.45 1306.51 1319.60 1332.53 1343.82 1349.38" y="508.22" font-size="22.05" font-style="italic" font-weight="normal">An. parensis</text>
<text x="1120.37 1126.87 1142.95 1156.41 1169.93 1183.28 1196.84 1210.26" y="543.58" font-size="22.05" font-style="normal" font-weight="normal"> N994147</text>
<text transform="translate(1118.65,543.58) scale(0.668,1)" x="0" y="0" font-size="22.05">J</text>
<text x="1229.59 1244.84 1258.10 1264.39 1271.49 1284.07 1290.55 1296.83 1304.57 1312.59 1318.56 1331.00 1344.31 1350.11 1363.74 1371.82 1385.83" y="543.58" font-size="22.05" font-style="italic" font-weight="normal">An. cf. rivulorum</text>
<text x="1120.64 1134.24 1149.53 1162.87 1176.44 1189.90 1203.24 1216.81" y="578.94" font-size="22.05" font-style="normal" font-weight="normal">K 014818</text>
<text transform="translate(1134.66,578.94) scale(0.917,1)" x="0" y="0" font-size="22.05">R</text>
<text x="1236.09 1251.34 1264.61 1270.89 1277.99 1290.57 1297.05 1303.34 1311.07 1319.09 1325.07 1337.51 1350.82 1356.62 1370.24 1378.33 1392.33" y="578.94" font-size="22.05" font-style="italic" font-weight="normal">An. cf. rivulorum</text>
<text x="1120.64 1136.41 1153.90 1167.35 1180.53 1194.26 1207.72 1221.18" y="614.30" font-size="22.05" font-style="normal" font-weight="normal">DQ662408</text>
<text x="1240.46 1255.71 1268.98 1275.26 1282.40 1296.55 1304.17 1317.21 1330.31 1336.18" y="614.30" font-size="22.05" font-style="italic" font-weight="normal">An. dthali</text>
</g>
<rect x="788.40" y="633.20" width="95.40" height="2.00" fill="#000"/>
<text x="818.13 828.05 833.30 843.42" y="659.00" font-size="16.80" font-style="normal" font-weight="normal">0.06</text>
<circle cx="601.60" cy="912.60" r="10.50" fill="#62bb46"/>
<circle cx="601.60" cy="945.10" r="9.50" fill="#62bb46" stroke="#111" stroke-width="1.8"/>
<text x="626.75 644.59 658.99 665.55 672.11 678.54" y="922.70" font-size="24.15" font-style="italic" font-weight="normal" style="stroke-width:0.3px">Cellia</text>
<text x="626.75 644.59 658.99 665.55 672.11 678.54" y="952.60" font-size="24.15" font-style="italic" font-weight="normal" style="stroke-width:0.3px">Cellia</text>
<text x="692.64 700.14 710.56 719.38 734.17 740.39 752.41 760.19 773.42 782.17 797.04 812.34 825.37" y="952.60" font-size="24.15" font-style="normal" font-weight="normal" style="stroke-width:0.3px">  this study </text>
<text transform="translate(700.93,952.60) scale(0.826,1)" x="0" y="0" font-size="24.15">(</text>
<text transform="translate(827.14,952.60) scale(0.826,1)" x="0" y="0" font-size="24.15">)</text>
<text x="3.10" y="24.00" font-size="29.61" font-style="normal" font-weight="bold" style="stroke-width:0.5px">A</text>
<text x="576.55" y="24.00" font-size="29.61" font-style="normal" font-weight="bold" style="stroke-width:0.5px">B</text>
<text transform="scale(1.1,1)" x="86.88 108.14 127.02 136.04 145.88 156.31 174.58 193.15 209.59 226.47 237.85 255.43" y="26.00" font-size="29.51" font-style="italic" font-weight="bold" style="stroke-width:0.7px">An. funestus</text>
<text transform="scale(1.08,1)" x="276.29 285.62 305.14 317.00 335.27 354.11 372.34 380.00 400.29 423.64" y="26.00" font-size="29.51" font-style="normal" font-weight="bold" style="stroke-width:0.7px"> group COI</text>
<text transform="scale(1.1,1)" x="745.06 766.33 785.21 794.22 804.06 814.49 832.76 851.34 867.77 884.65 896.03 913.61" y="25.80" font-size="29.51" font-style="italic" font-weight="bold" style="stroke-width:0.7px">An. funestus</text>
<text transform="scale(1.08,1)" x="946.66 955.99 975.51 987.37 1005.64 1024.48 1042.71 1052.58 1061.44 1079.10 1099.10" y="25.80" font-size="29.51" font-style="normal" font-weight="bold" style="stroke-width:0.7px"> group ITS2</text>
</svg>
</body></html>
